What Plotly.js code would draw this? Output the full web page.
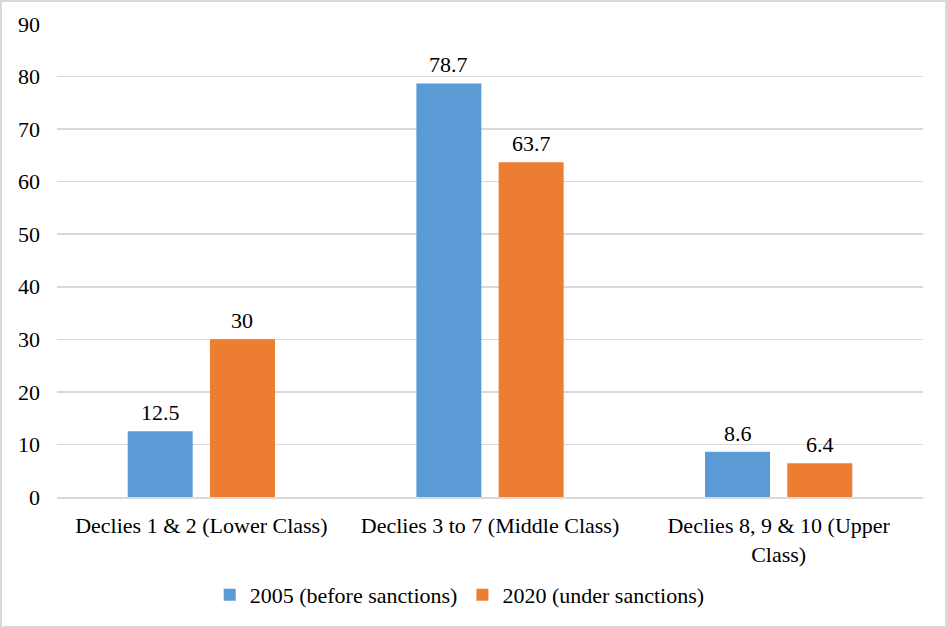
<!DOCTYPE html>
<html>
<head>
<meta charset="utf-8">
<script src="https://cdn.plot.ly/plotly-3.0.1.min.js"></script>
<style>
  html, body { margin: 0; padding: 0; background: #fff; }
  #wrap { position: relative; width: 947px; height: 628px; }
  #chart { width: 947px; height: 628px; }
  #frame { position: absolute; left: 0; top: 0; width: 947px; height: 628px; box-sizing: border-box; border: 2px solid #d9d9d9; pointer-events: none; }
</style>
</head>
<body>
<div id="wrap">
  <div id="chart"></div>
  <div id="frame"></div>
</div>
<script>
const categories = [
  "Declies 1 & 2 (Lower Class)",
  "Declies 3 to 7 (Middle Class)",
  "Declies 8, 9 & 10 (Upper<br>Class)"
];
const seriesNames = ["2005 (before sanctions)", "2020 (under sanctions)"];
const values2005 = [12.5, 78.7, 8.6];
const values2020 = [30, 63.7, 6.4];
const yTicks = [0, 10, 20, 30, 40, 50, 60, 70, 80, 90];

const fontFam = "Times New Roman, Liberation Serif, serif";
const fs = 22;
const bargap = 0.43, bargroupgap = 0.21;
const half = (1 - bargap) / 4; // offset of each bar's centre from category centre

const traces = [
  { type: "bar", name: seriesNames[0], x: categories, y: values2005, marker: { color: "#5B9BD5" } },
  { type: "bar", name: seriesNames[1], x: categories, y: values2020, marker: { color: "#ED7D31" } }
];

const annotations = [];
[values2005, values2020].forEach((vals, s) => {
  vals.forEach((v, i) => {
    annotations.push({
      xref: "x", yref: "y", x: i + (s === 0 ? -half : half), y: v,
      text: String(v), showarrow: false, xanchor: "center", yanchor: "bottom",
      yshift: 4, font: { family: fontFam, size: fs, color: "#000" }
    });
  });
});

const layout = {
  width: 947, height: 628,
  margin: { l: 57, r: 24, t: 24, b: 131, autoexpand: false },
  paper_bgcolor: "#fff", plot_bgcolor: "#fff",
  font: { family: fontFam, size: fs, color: "#000" },
  barmode: "group", bargap: bargap, bargroupgap: bargroupgap,
  showlegend: true,
  legend: {
    orientation: "h", x: 0.465, xanchor: "center", y: -0.207, yanchor: "middle",
    font: { family: fontFam, size: fs, color: "#000" }, traceorder: "normal"
  },
  annotations: annotations,
  xaxis: {
    type: "category", showgrid: false, zeroline: false,
    showline: true, linecolor: "#d9d9d9", linewidth: 1.5,
    ticks: "", tickangle: 0, tickfont: { family: fontFam, size: fs, color: "#000" },
    ticklabelstandoff: 8
  },
  yaxis: {
    range: [0, 90], tickvals: yTicks, ticktext: yTicks.map(String),
    showgrid: true, gridcolor: "#d9d9d9", gridwidth: 1.5,
    zeroline: false, showline: false, ticks: "",
    tickfont: { family: fontFam, size: fs, color: "#000" },
    ticklabelstandoff: 16
  }
};

Plotly.newPlot("chart", traces, layout, { displayModeBar: false, staticPlot: true });
</script>
</body>
</html>
